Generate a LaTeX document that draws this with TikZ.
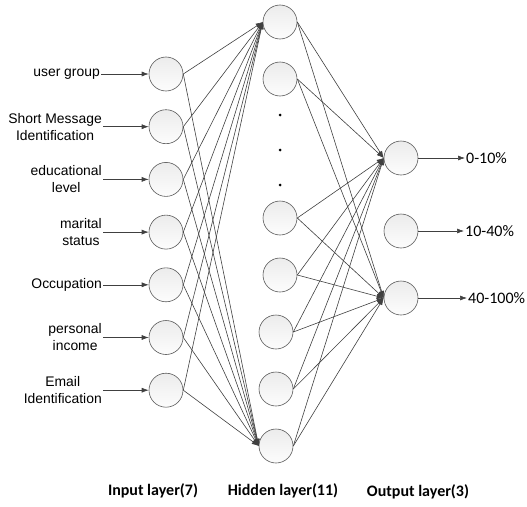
\documentclass[tikz,border=0pt]{standalone}
\usepackage{fontspec}
\setmainfont{Liberation Sans}
\newfontfamily\calibri{Carlito}
\usetikzlibrary{arrows.meta}
\definecolor{linegray}{HTML}{404040}
\definecolor{rimgray}{HTML}{5A5A5A}
\tikzset{neuron/.style={shape=circle, draw=rimgray, line width=0.6pt, minimum size=34pt, inner sep=0pt, top color=gray!15, bottom color=gray!2}}
\tikzset{feature/.style={align=center, font=\fontsize{13.9}{17}\selectfont, inner sep=1pt}}
\tikzset{result/.style={font=\calibri\fontsize{16}{19}\selectfont, inner sep=1pt}}
\tikzset{layername/.style={font=\calibri\bfseries\fontsize{16}{19}\selectfont}}
\tikzset{ellipsisdot/.style={shape=circle, fill=black, inner sep=0pt, minimum size=3pt}}
\tikzset{every edge/.style={draw=linegray, line width=0.6pt, -{Latex[length=7pt,width=5pt]}}}

\begin{document}
\begin{tikzpicture}[x=1pt, y=1pt, node distance=52.7pt]
  \useasboundingbox (0,0) rectangle (527,-506);

  % input layer
  \node (in1) [neuron] at (166,-74) {};
  \node (in2) [neuron, below of=in1] {};
  \node (in3) [neuron, below of=in2] {};
  \node (in4) [neuron, below of=in3] {};
  \node (in5) [neuron, below of=in4] {};
  \node (in6) [neuron, below of=in5] {};
  \node (in7) [neuron, below of=in6] {};

  % hidden layer
  \node (h1) [neuron] at (280,-22) {};
  \node (h2) [neuron, node distance=57pt, below of=h1] {};
  \node (d1) [ellipsisdot, node distance=36pt, below of=h2] {};
  \node (d2) [ellipsisdot, node distance=35pt, below of=d1] {};
  \node (d3) [ellipsisdot, node distance=35pt, below of=d2] {};
  \node (h3) [neuron, node distance=33pt, below of=d3] {};
  \node (h4) [neuron, node distance=57pt, below of=h3] {};
  \node (h5) [neuron, node distance=57pt, below of=h4, xshift=-4pt] {};
  \node (h6) [neuron, node distance=57pt, below of=h5] {};
  \node (h7) [neuron, node distance=57pt, below of=h6] {};

  % output layer
  \node (o1) [neuron] at (401,-158) {};
  \node (o2) [neuron, node distance=73pt, below of=o1] {};
  \node (o3) [neuron, node distance=67pt, below of=o2] {};

  % inputs
  \node (f1) [feature, left of=in1, node distance=65pt, anchor=east] {user group};
  \node (f2) [feature, left of=in2, node distance=63pt, anchor=east] {Short Message\\Identification};
  \node (f3) [feature, left of=in3, node distance=63pt, anchor=east] {educational\\level};
  \node (f4) [feature, left of=in4, node distance=63pt, anchor=east] {marital\\status};
  \node (f5) [feature, left of=in5, node distance=63pt, anchor=east] {Occupation};
  \node (f6) [feature, left of=in6, node distance=63pt, anchor=east] {personal\\income};
  \node (f7) [feature, left of=in7, node distance=63pt, anchor=east] {Email\\Identification};

  \path (f1) edge (in1.west);
  \path (f2) edge (in2.west);
  \path (f3) edge (in3.west);
  \path (f4) edge (in4.west);
  \path (f5) edge (in5.west);
  \path (f6) edge (in6.west);
  \path (f7) edge (in7.west);

  % input -> hidden
  \path (in1.east) edge (h1.west) edge (h7.west);
  \path (in2.east) edge (h1.west) edge (h7.west);
  \path (in3.east) edge (h1.west) edge (h7.west);
  \path (in4.east) edge (h1.west) edge (h7.west);
  \path (in5.east) edge (h1.west) edge (h7.west);
  \path (in6.east) edge (h1.west) edge (h7.west);
  \path (in7.east) edge (h1.west) edge (h7.west);

  % hidden -> output
  \path (h1.east) edge (o1.west) edge (o3.west);
  \path (h2.east) edge (o1.west) edge (o3.west);
  \path (h3.east) edge (o1.west) edge (o3.west);
  \path (h4.east) edge (o1.west) edge (o3.west);
  \path (h5.east) edge (o1.west) edge (o3.west);
  \path (h6.east) edge (o1.west) edge (o3.west);
  \path (h7.east) edge (o1.west) edge (o3.west);

  % outputs
  \node (r1) [result, right of=o1, node distance=64pt, anchor=west] {0-10\%};
  \node (r2) [result, right of=o2, node distance=63pt, anchor=west] {10-40\%};
  \node (r3) [result, right of=o3, node distance=66pt, anchor=west] {40-100\%};

  \path (o1.east) edge (r1);
  \path (o2.east) edge (r2);
  \path (o3.east) edge (r3);

  % layer names
  \node (t1) [layername, below of=in7, node distance=101pt, xshift=-13pt] {Input layer(7)};
  \node (t2) [layername, below of=h7, node distance=45pt, xshift=7pt] {Hidden layer(11)};
  \node (t3) [layername, below of=o3, node distance=194pt, xshift=17pt] {Output layer(3)};
\end{tikzpicture}
\end{document}
